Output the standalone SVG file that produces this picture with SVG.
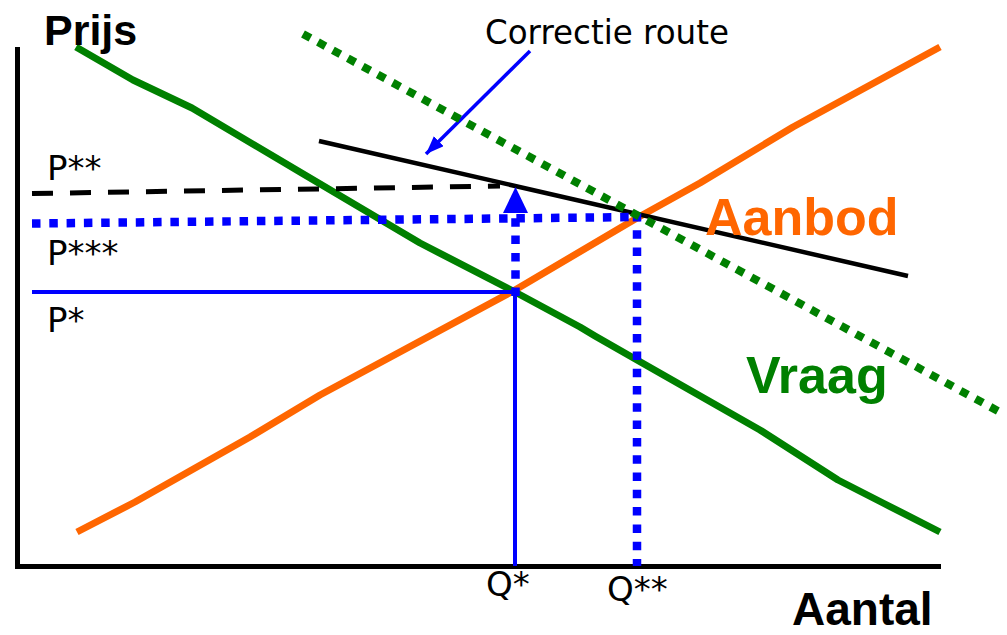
<svg xmlns="http://www.w3.org/2000/svg" width="1007" height="635" viewBox="0 0 1007 635">
  <style>
    .lbl { font-family: "DejaVu Sans", "Liberation Sans", sans-serif; font-size: 34px; fill: #000; }
    .big { font-family: "Liberation Sans", Arial, sans-serif; font-weight: bold; }
    .curve { fill: none; stroke-linejoin: round; }
    .bdot { fill: none; stroke: #0000FF; stroke-width: 8.5; stroke-dasharray: 8.5 8.8; }
  </style>
  <defs>
    <marker id="arrowBlue" markerUnits="userSpaceOnUse" markerWidth="20" markerHeight="16" refX="18" refY="7" orient="auto">
      <path d="M0,0 L18,7 L0,14 Z" fill="#0000FF"/>
    </marker>
  </defs>
  <rect width="1007" height="635" fill="#fff"/>

  <g id="axes" stroke="#000" stroke-width="5" fill="none">
    <line x1="17.5" y1="47" x2="17.5" y2="569"/>
    <line x1="15" y1="566.5" x2="941" y2="566.5"/>
  </g>

  <g id="supply">
    <polyline class="curve" stroke="#FF6600" stroke-width="7" points="77,532 135,502 250,437 320,395 515,290 637,218 700,183 793,127 940,47"/>
  </g>

  <g id="demand">
    <polyline class="curve" stroke="#008000" stroke-width="7" points="76,47 133,80 192,108 305,175 420,243 515,292 580,327 595,336 637,360 760,430 838,480 883,503 940,532"/>
  </g>

  <g id="connectors">
    <line x1="319" y1="141" x2="908" y2="276" stroke="#000" stroke-width="4.5"/>
    <line x1="32" y1="193.5" x2="500" y2="186" stroke="#000" stroke-width="5" stroke-dasharray="21 17"/>
    <line x1="32" y1="292" x2="515" y2="292" stroke="#0000FF" stroke-width="4"/>
    <line x1="515" y1="292" x2="515" y2="566" stroke="#0000FF" stroke-width="4"/>
    <line class="bdot" x1="32" y1="223.5" x2="640" y2="217"/>
    <line class="bdot" x1="515.5" y1="296" x2="515.5" y2="210"/>
    <line class="bdot" x1="637" y1="213" x2="637" y2="566"/>
    <path d="M503,213 L528,213 L515.5,187 Z" fill="#0000FF"/>
    <line x1="530" y1="51" x2="426" y2="154" stroke="#0000FF" stroke-width="3.5" marker-end="url(#arrowBlue)"/>
    <line x1="303" y1="34" x2="998" y2="411" stroke="#008000" stroke-width="8" stroke-dasharray="8.5 8.5"/>
  </g>

  <g id="labels">
    <text class="big" x="44" y="45" font-size="43" fill="#000">Prijs</text>
    <text class="big" x="792" y="625" font-size="46" fill="#000">Aantal</text>
    <text class="big" x="705" y="235" font-size="52" fill="#FF6600">Aanbod</text>
    <text class="big" x="746" y="393" font-size="52" fill="#008000">Vraag</text>
    <text class="lbl" x="485" y="44" textLength="244" lengthAdjust="spacingAndGlyphs">Correctie route</text>
    <text class="lbl" x="47" y="180">P**</text>
    <text class="lbl" x="47" y="265">P***</text>
    <text class="lbl" x="47" y="332">P*</text>
    <text class="lbl" x="486" y="596">Q*</text>
    <text class="lbl" x="607" y="601">Q**</text>
  </g>
</svg>
